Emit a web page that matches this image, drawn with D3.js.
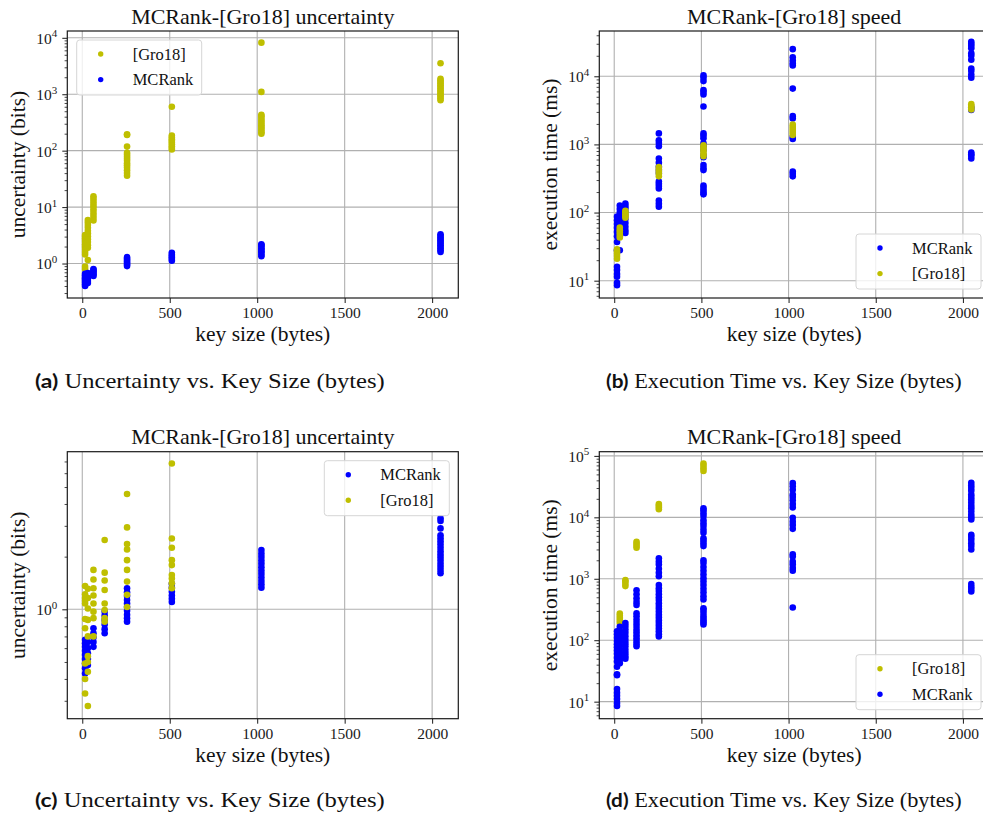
<!DOCTYPE html>
<html>
<head>
<meta charset="utf-8">
<script src="https://cdn.jsdelivr.net/npm/d3@7"></script>
<style>
  body { margin: 0; background: #fff; }
  svg { display: block; }
</style>
</head>
<body>
<svg id="fig" width="983" height="817"></svg>
<script>
// ---------- data ----------
// key sizes on the x axis (bytes)
const xTickValues = [0, 500, 1000, 1500, 2000];

// y-axis decade exponents per panel
const yTickExpA = [0, 1, 2, 3, 4];
const yTickExpB = [1, 2, 3, 4];
const yTickExpC = [0];
const yTickExpD = [1, 2, 3, 4, 5];

// (a) uncertainty in bits, per key size
const gro18UncertA = [
  [16, [0.8, 0.88, 1.45, 1.6, 1.75, 1.9, 2.05, 2.2, 2.4, 2.6, 2.8, 3.0, 3.2]],
  [32, [1.15, 1.9, 2.1, 2.4, 2.7, 3.0, 3.4, 3.8, 4.3, 4.8, 5.4, 5.9]],
  [64, [5.8, 6.5, 7.3, 8.2, 9.2, 10.3, 11.5, 12.8, 14.2, 15.5]],
  [256, [36, 40, 45, 50, 55, 60, 66, 72, 78, 85, 92, 118, 190, 195]],
  [512, [105, 112, 120, 130, 140, 150, 160, 172, 185, 600]],
  [1024, [200, 212, 228, 245, 262, 280, 300, 325, 350, 380, 410, 430, 1100, 8200]],
  [2048, [780, 840, 900, 960, 1030, 1100, 1180, 1260, 1350, 1450, 1550, 1650, 1760, 1870, 3550]]
];
const mcrankUncertA = [
  [16, [0.4, 0.43, 0.46, 0.49, 0.52, 0.55, 0.58, 0.62, 0.66]],
  [32, [0.45, 0.49, 0.53, 0.58, 0.63, 0.68]],
  [64, [0.6, 0.64, 0.68, 0.72, 0.77, 0.8]],
  [256, [0.9, 0.96, 1.02, 1.08, 1.15, 1.22, 1.3]],
  [512, [1.12, 1.2, 1.28, 1.36, 1.45, 1.55]],
  [1024, [1.35, 1.45, 1.55, 1.65, 1.75, 1.87, 2.0, 2.12, 2.2]],
  [2048, [1.6, 1.72, 1.84, 1.96, 2.1, 2.25, 2.4, 2.56, 2.72, 2.9, 3.1, 3.3]]
];

// (b) execution time in ms, per key size
const mcrankSpeedB = [
  [16, [8.6, 9.3, 11.4, 12.5, 14.3, 16, 28, 37, 45, 52, 60, 68, 77, 87]],
  [32, [28, 45, 52, 60, 68, 77, 88, 100, 113, 127]],
  [64, [50, 55, 62, 70, 80, 90, 102, 115, 125, 136]],
  [256, [122, 135, 150, 225, 245, 265, 285, 380, 420, 470, 540, 620, 940, 1050, 1150, 1450]],
  [512, [185, 195, 210, 230, 250, 420, 450, 500, 650, 700, 830, 940, 1040, 1230, 1350, 1450, 3600, 5400, 5900, 6300, 8500, 9500, 10300]],
  [1024, [340, 370, 400, 1200, 1290, 2400, 2600, 6600, 14400, 15500, 17000, 19000, 25000]],
  [2048, [620, 680, 720, 760, 3200, 3500, 9500, 10500, 12000, 13000, 17500, 20000, 21700, 25700, 28000, 30000, 32000]]
];
const gro18SpeedB = [
  [16, [21, 23, 25, 27, 29]],
  [32, [43, 47, 51, 55, 60]],
  [64, [84, 89, 94, 100, 106]],
  [256, [340, 370, 400, 430, 465]],
  [512, [670, 720, 780, 840, 900, 970]],
  [1024, [1380, 1480, 1590, 1700, 1820, 1950]],
  [2048, [3250, 3450, 3650, 3900]]
];

// (c) uncertainty in bits, second run
const mcrankUncertC = [
  [16, [0.43, 0.46, 0.49, 0.52, 0.55, 0.58, 0.61, 0.64, 0.67]],
  [32, [0.48, 0.52, 0.56, 0.6, 0.65]],
  [64, [0.61, 0.65, 0.69, 0.73, 0.78]],
  [128, [0.73, 0.77, 0.82, 0.87, 0.92, 0.97]],
  [256, [0.85, 0.89, 0.93, 0.98, 1.03, 1.08, 1.13, 1.19, 1.25, 1.32]],
  [512, [1.1, 1.15, 1.2, 1.26, 1.33, 1.4]],
  [1024, [1.33, 1.39, 1.45, 1.52, 1.59, 1.66, 1.74, 1.82, 1.9, 1.99, 2.08, 2.18]],
  [2048, [1.61, 1.68, 1.75, 1.82, 1.9, 1.98, 2.06, 2.15, 2.25, 2.35, 2.45, 2.55, 2.65, 2.9, 3.2, 3.31]]
];
const gro18UncertC = [
  [16, [0.33, 0.4, 0.49, 0.78, 0.88, 1.08, 1.12, 1.16, 1.22, 1.36]],
  [32, [0.28, 0.44, 0.5, 0.54, 0.7, 0.87, 1.01, 1.16, 1.31]],
  [64, [0.7, 0.89, 0.97, 1.08, 1.2, 1.32, 1.48, 1.68]],
  [128, [0.85, 0.89, 0.99, 1.08, 1.29, 1.46, 1.62, 2.49]],
  [256, [1.03, 1.21, 1.44, 1.68, 1.91, 2.2, 2.36, 2.94, 4.56]],
  [512, [1.32, 1.41, 1.5, 1.57, 1.79, 1.91, 2.25, 2.54, 6.82]]
];

// (d) execution time in ms, second run
const gro18SpeedD = [
  [32, [190, 210, 230, 250, 272]],
  [64, [760, 830, 900, 950]],
  [128, [3200, 3450, 3700, 4000]],
  [256, [13500, 14500, 15500, 16500]],
  [512, [57000, 63000, 69000, 75000]]
];
const mcrankSpeedD = [
  [16, [8.5, 9.5, 11, 12.5, 14, 16, 27, 28, 37, 45, 52, 60, 68, 77, 86, 97, 110, 125, 140]],
  [32, [42, 48, 55, 63, 72, 82, 94, 107, 122, 140, 165]],
  [64, [50, 55, 62, 70, 80, 90, 102, 116, 132, 150, 170, 190]],
  [128, [80, 88, 97, 108, 120, 135, 150, 170, 190, 215, 245, 275, 376, 420, 480, 560, 650]],
  [256, [115, 125, 140, 155, 172, 190, 210, 235, 260, 290, 325, 360, 400, 450, 500, 560, 630, 700, 790, 1100, 1250, 1450, 1700, 1900, 2150]],
  [512, [180, 195, 210, 230, 250, 280, 310, 330, 460, 520, 600, 690, 790, 900, 1020, 1170, 1350, 1550, 1800, 2000, 3400, 3800, 4200, 4550, 5600, 6300, 7200, 8000, 9000, 10500, 11700, 13000, 14000]],
  [1024, [340, 1350, 1500, 1700, 1900, 2300, 2500, 6500, 7500, 8500, 9800, 14500, 16500, 19000, 21500, 23500, 28000, 32000, 36000]],
  [2048, [620, 680, 740, 820, 3000, 3400, 3800, 4300, 4800, 5200, 9200, 10000, 11000, 12500, 14000, 15500, 17500, 19500, 21500, 23500, 27000, 30000, 33000, 36500]]
];

// ---------- drawing ----------
const svg = d3.select("#fig");
const SERIF = "'Liberation Serif', 'Times New Roman', serif";
const BLUE = "#0000ff";
const OLIVE = "#bfbf00";
const GRID = "#b0b0b0";
const INK = "#1a1a1a";
const X_DOMAIN = [-85.6, 2149.6];
const defs = svg.append("defs");

function flatten(groups) {
  const out = [];
  groups.forEach(([k, vals]) => vals.forEach(v => out.push({ k, v })));
  return out;
}

function drawPanel(p) {
  const x = d3.scaleLinear().domain(X_DOMAIN).range([p.left, p.right]);
  const y = d3.scaleLog().domain(p.yDomain).range([p.bottom, p.top]);
  const g = svg.append("g");

  const clipId = "clip-" + p.id;
  defs.append("clipPath").attr("id", clipId).append("rect")
    .attr("x", p.left).attr("y", p.top)
    .attr("width", p.right - p.left).attr("height", p.bottom - p.top);

  const majors = p.yExp.map(e => Math.pow(10, e));
  const minors = [];
  const lo = Math.floor(Math.log10(p.yDomain[0])), hi = Math.ceil(Math.log10(p.yDomain[1]));
  for (let e = lo; e <= hi; e++) {
    for (let m = 2; m <= 9; m++) {
      const v = m * Math.pow(10, e);
      if (v >= p.yDomain[0] && v <= p.yDomain[1]) minors.push(v);
    }
  }

  // grid
  const grid = g.append("g").attr("clip-path", `url(#${clipId})`);
  grid.selectAll("line.gx").data(xTickValues).join("line")
    .attr("x1", d => x(d)).attr("x2", d => x(d))
    .attr("y1", p.top).attr("y2", p.bottom)
    .attr("stroke", GRID).attr("stroke-width", 1.1);
  grid.selectAll("line.gy").data(majors).join("line")
    .attr("x1", p.left).attr("x2", p.right)
    .attr("y1", d => y(d)).attr("y2", d => y(d))
    .attr("stroke", GRID).attr("stroke-width", 1.1);

  // points, in plotting order
  const pts = g.append("g").attr("clip-path", `url(#${clipId})`);
  p.series.forEach(s => {
    pts.append("g").selectAll("circle").data(flatten(s.data)).join("circle")
      .attr("cx", d => x(d.k)).attr("cy", d => y(d.v))
      .attr("r", 3.3).attr("fill", s.color);
  });

  // x axis
  const xa = g.append("g").attr("transform", `translate(0,${p.bottom})`)
    .call(d3.axisBottom(x).tickValues(xTickValues).tickFormat(d3.format("d"))
      .tickSizeInner(5).tickSizeOuter(0).tickPadding(4));
  xa.select(".domain").remove();
  xa.selectAll(".tick line").attr("stroke", INK).attr("stroke-width", 1);
  xa.selectAll(".tick text").attr("font-family", SERIF).attr("font-size", 15.5).attr("fill", INK);

  // y axis: minor ticks
  const ym = g.append("g").attr("transform", `translate(${p.left},0)`)
    .call(d3.axisLeft(y).tickValues(minors).tickFormat("").tickSizeInner(2.7).tickSizeOuter(0));
  ym.select(".domain").remove();
  ym.selectAll(".tick line").attr("stroke", INK).attr("stroke-width", 0.8);

  // y axis: decades with superscript exponents
  const ya = g.append("g").attr("transform", `translate(${p.left},0)`)
    .call(d3.axisLeft(y).tickValues(majors).tickFormat("").tickSizeInner(5).tickSizeOuter(0).tickPadding(5));
  ya.select(".domain").remove();
  ya.selectAll(".tick line").attr("stroke", INK).attr("stroke-width", 1);
  ya.selectAll(".tick text").each(function (d) {
    const t = d3.select(this).attr("font-family", SERIF).attr("font-size", 15.5).attr("fill", INK)
      .attr("text-anchor", "end").attr("dy", "0.35em");
    t.text(null);
    t.append("tspan").text("10");
    t.append("tspan").attr("font-size", 11).attr("dy", -6.5).text(Math.round(Math.log10(d)));
  });

  // frame
  g.append("rect").attr("x", p.left).attr("y", p.top)
    .attr("width", p.right - p.left).attr("height", p.bottom - p.top)
    .attr("fill", "none").attr("stroke", INK).attr("stroke-width", 1.2);

  // title and axis labels
  const cx = (p.left + p.right) / 2;
  g.append("text").attr("x", cx).attr("y", p.top - 7.5)
    .attr("text-anchor", "middle").attr("font-family", SERIF).attr("font-size", 22)
    .attr("fill", "#111").text(p.title);
  g.append("text").attr("x", cx).attr("y", p.bottom + 43)
    .attr("text-anchor", "middle").attr("font-family", SERIF).attr("font-size", 21.5)
    .attr("fill", "#111").text("key size (bytes)");
  g.append("text")
    .attr("transform", `translate(${p.left - 42},${(p.top + p.bottom) / 2}) rotate(-90)`)
    .attr("text-anchor", "middle").attr("font-family", SERIF).attr("font-size", 21.5)
    .attr("fill", "#111").text(p.ylabel);

  // legend
  const lw = 125, lh = 55;
  const lx = p.legend === "ul" ? p.left + 9.4 : p.legend === "ur" ? p.right - 9 - lw : p.right - 8 - lw;
  const ly = p.legend === "lr" ? p.bottom - 9 - lh : p.top + 9;
  const lg = g.append("g").attr("transform", `translate(${lx},${ly})`);
  lg.append("rect").attr("width", lw).attr("height", lh).attr("rx", 3)
    .attr("fill", "#fff").attr("fill-opacity", 0.8)
    .attr("stroke", "#d6d6d6").attr("stroke-width", 1);
  p.legendItems.forEach((it, i) => {
    const ry = 14 + i * 25.6;
    lg.append("circle").attr("cx", 24).attr("cy", ry).attr("r", 2.7).attr("fill", it.color);
    lg.append("text").attr("x", 56).attr("y", ry + 5.5)
      .attr("font-family", SERIF).attr("font-size", 16.5).attr("fill", "#111").text(it.label);
  });
}

const MC = { label: "MCRank", color: BLUE };
const GR = { label: "[Gro18]", color: OLIVE };

drawPanel({
  id: "a", left: 67.3, right: 458.3, top: 31, bottom: 298,
  yDomain: [0.245, 13200], yExp: yTickExpA,
  title: "MCRank-[Gro18] uncertainty", ylabel: "uncertainty (bits)",
  series: [{ data: gro18UncertA, color: OLIVE }, { data: mcrankUncertA, color: BLUE }],
  legend: "ul", legendItems: [GR, MC]
});
drawPanel({
  id: "b", left: 599.3, right: 989, top: 31, bottom: 298,
  yDomain: [5.57, 46200], yExp: yTickExpB,
  title: "MCRank-[Gro18] speed", ylabel: "execution time (ms)",
  series: [{ data: mcrankSpeedB, color: BLUE }, { data: gro18SpeedB, color: OLIVE }],
  legend: "lr", legendItems: [MC, GR]
});
drawPanel({
  id: "c", left: 67.3, right: 458.3, top: 451.7, bottom: 718.7,
  yDomain: [0.237, 7.96], yExp: yTickExpC,
  title: "MCRank-[Gro18] uncertainty", ylabel: "uncertainty (bits)",
  series: [{ data: mcrankUncertC, color: BLUE }, { data: gro18UncertC, color: OLIVE }],
  legend: "ur", legendItems: [MC, GR]
});
drawPanel({
  id: "d", left: 599.3, right: 989, top: 451.7, bottom: 718.7,
  yDomain: [5.28, 117000], yExp: yTickExpD,
  title: "MCRank-[Gro18] speed", ylabel: "execution time (ms)",
  series: [{ data: gro18SpeedD, color: OLIVE }, { data: mcrankSpeedD, color: BLUE }],
  legend: "lr", legendItems: [GR, MC]
});

// sub-figure captions, widened horizontally to their printed width
const captions = [
  { x: 35, width: 350, y: 388, tag: "(a)", text: "Uncertainty vs. Key Size (bytes)" },
  { x: 606, width: 356, y: 388, tag: "(b)", text: "Execution Time vs. Key Size (bytes)" },
  { x: 35, width: 350, y: 807, tag: "(c)", text: "Uncertainty vs. Key Size (bytes)" },
  { x: 606, width: 356, y: 807, tag: "(d)", text: "Execution Time vs. Key Size (bytes)" }
];
captions.forEach(c => {
  const t = svg.append("text").attr("x", 0).attr("y", 0).attr("fill", "#111");
  t.append("tspan").attr("font-family", "Lato, 'Open Sans', sans-serif").attr("font-weight", 700)
    .attr("font-size", 19.5).text(c.tag);
  t.append("tspan").attr("font-family", SERIF).attr("font-size", 21)
    .text("\u00a0" + c.text);
  const w = t.node().getComputedTextLength();
  t.attr("transform", `translate(${c.x},${c.y}) scale(${(c.width / w).toFixed(4)},1)`);
});
</script>
</body>
</html>
